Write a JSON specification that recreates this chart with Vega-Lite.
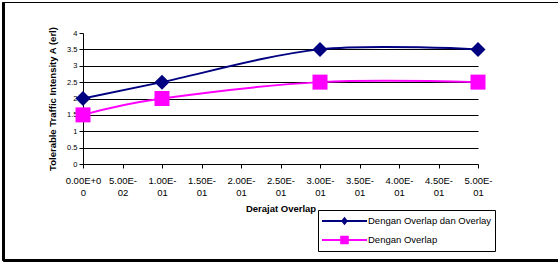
{
  "$schema": "https://vega.github.io/schema/vega-lite/v6.json",
  "width": 395,
  "height": 131,
  "autosize": {"type": "none"},
  "padding": {"left": 83, "top": 33, "right": 80, "bottom": 99},
  "background": "white",
  "config": {"view": {"stroke": null}, "font": "Liberation Sans"},
  "data": {
    "values": [
      {"x": 0, "y": 2, "s": "Dengan Overlap dan Overlay"},
      {"x": 0.1, "y": 2.5, "s": "Dengan Overlap dan Overlay"},
      {"x": 0.3, "y": 3.5, "s": "Dengan Overlap dan Overlay"},
      {"x": 0.5, "y": 3.5, "s": "Dengan Overlap dan Overlay"},
      {"x": 0, "y": 1.5, "s": "Dengan Overlap"},
      {"x": 0.1, "y": 2, "s": "Dengan Overlap"},
      {"x": 0.3, "y": 2.5, "s": "Dengan Overlap"},
      {"x": 0.5, "y": 2.5, "s": "Dengan Overlap"}
    ]
  },
  "encoding": {
    "x": {
      "field": "x",
      "type": "quantitative",
      "scale": {"domain": [0, 0.5], "nice": false, "zero": false},
      "axis": {
        "values": [0, 0.05, 0.1, 0.15, 0.2, 0.25, 0.3, 0.35, 0.4, 0.45, 0.5],
        "title": "Derajat Overlap",
        "grid": false,
        "labelExpr": "[['0.00E+0','0'],['5.00E-','02'],['1.00E-','01'],['1.50E-','01'],['2.00E-','01'],['2.50E-','01'],['3.00E-','01'],['3.50E-','01'],['4.00E-','01'],['4.50E-','01'],['5.00E-','01']][round(datum.value*20)]",
        "labelFontSize": 9.5,
        "labelColor": "black",
        "labelLineHeight": 12.7,
        "labelPadding": 7,
        "labelAngle": 0,
        "labelFlush": false,
        "labelOverlap": false,
        "tickSize": 4,
        "tickColor": "black",
        "domainColor": "black",
        "titleFontSize": 9.5,
        "titleFontWeight": "bold",
        "titleColor": "black",
        "titlePadding": 6
      }
    },
    "y": {
      "field": "y",
      "type": "quantitative",
      "scale": {"domain": [0, 4], "nice": false},
      "axis": {
        "values": [0, 0.5, 1, 1.5, 2, 2.5, 3, 3.5, 4],
        "format": "~g",
        "title": "Tolerable Traffic Intensity A (erl)",
        "grid": true,
        "gridColor": "black",
        "gridWidth": 1,
        "gridOpacity": {"condition": {"test": "datum.value >= 4 || datum.value <= 0", "value": 0}, "value": 1},
        "labelFontSize": 7.5,
        "labelColor": "black",
        "labelPadding": 2,
        "tickSize": 4,
        "tickColor": "black",
        "domainColor": "black",
        "titleFontSize": 9.5,
        "titleFontWeight": "bold",
        "titleColor": "black",
        "titlePadding": 9
      }
    }
  },
  "layer": [
    {
      "mark": {"type": "line", "interpolate": "cardinal", "strokeWidth": 2},
      "encoding": {
        "color": {
          "field": "s",
          "type": "nominal",
          "scale": {"domain": ["Dengan Overlap dan Overlay", "Dengan Overlap"], "range": ["#000080", "#FF00FF"]},
          "legend": {
            "orient": "none",
            "legendX": 235,
            "legendY": 177,
            "title": null,
            "strokeColor": "black",
            "fillColor": "white",
            "padding": 3,
            "labelFontSize": 9.5,
            "labelColor": "black",
            "labelOffset": 31,
            "labelLimit": 300,
            "rowPadding": 4,
            "symbolSize": 196,
            "symbolStrokeWidth": 2,
            "encode": {
              "symbols": {
                "update": {
                  "shape": {"signal": "datum.value === 'Dengan Overlap' ? 'M-1,0H5.43M1.744,-0.47H2.684V0.47H1.744Z' : 'M-1,0H5.43M2.214,-0.38L2.52,0L2.214,0.38L1.908,0Z'"},
                  "fill": {"signal": "scale('color', datum.value)"},
                  "stroke": {"signal": "scale('color', datum.value)"},
                  "strokeWidth": {"value": 2}
                }
              }
            }
          }
        }
      }
    },
    {
      "transform": [{"filter": "datum.s === 'Dengan Overlap dan Overlay'"}],
      "mark": {"type": "point", "shape": "diamond", "filled": true, "size": 225, "opacity": 1, "strokeWidth": 0, "color": "#000080"}
    },
    {
      "transform": [{"filter": "datum.s === 'Dengan Overlap'"}],
      "mark": {"type": "point", "shape": "square", "filled": true, "size": 225, "opacity": 1, "strokeWidth": 0, "color": "#FF00FF"}
    },
    {
      "mark": {"type": "rule", "stroke": "black", "strokeWidth": 2, "clip": false},
      "encoding": {
        "x": {"datum": -0.1006, "type": "quantitative"},
        "y": {"datum": 4.931, "type": "quantitative"},
        "y2": {"datum": -2.947}
      }
    },
    {
      "mark": {"type": "rule", "stroke": "black", "strokeWidth": 1, "clip": false},
      "encoding": {
        "x": {"datum": -0.1006, "type": "quantitative"},
        "x2": {"datum": 0.62},
        "y": {"datum": 4.931, "type": "quantitative"}
      }
    },
    {
      "mark": {"type": "rule", "stroke": "black", "strokeWidth": 2, "clip": false},
      "encoding": {
        "x": {"datum": -0.1006, "type": "quantitative"},
        "x2": {"datum": 0.62},
        "y": {"datum": -2.947, "type": "quantitative"}
      }
    }
  ]
}
